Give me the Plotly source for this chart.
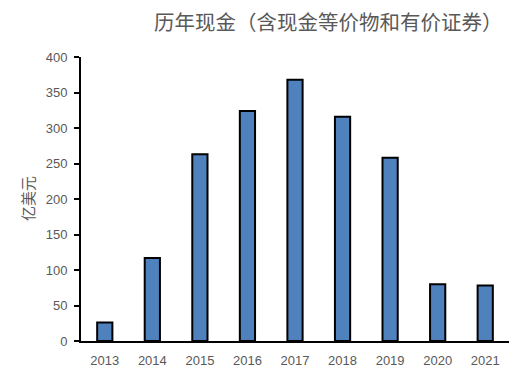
import plotly.graph_objects as go

years = ["2013", "2014", "2015", "2016", "2017", "2018", "2019", "2020", "2021"]
cash = [26, 117, 263, 324, 368, 316, 258, 80, 78]
y_ticks = [0, 50, 100, 150, 200, 250, 300, 350, 400]

title_text = "历年现金（含现金等价物和有价证券）"
y_title = "亿美元"

font_family = "Noto Sans CJK SC, Liberation Sans, Arial, sans-serif"
num_font = "Liberation Sans, Arial, sans-serif"

W, H = 525, 380
L, R, T, B = 81, 16, 57, 37
pw, ph = W - L - R, H - T - B

fig = go.Figure(go.Bar(
    x=years, y=cash,
    width=0.32,
    marker=dict(color="#4F81BD", line=dict(color="#000000", width=2)),
))

fig.update_layout(
    width=W, height=H,
    margin=dict(l=L, r=R, t=T, b=B),
    paper_bgcolor="white", plot_bgcolor="white",
    showlegend=False,
    font=dict(family=font_family, color="#595959", size=12),
    annotations=[
        dict(text=title_text, x=(328 - L) / pw, y=1 + (T - 21) / ph,
             xref="paper", yref="paper", showarrow=False,
             font=dict(size=20.5, color="#595959", family=font_family),
             xanchor="center", yanchor="middle"),
        dict(text=y_title, x=(27 - L) / pw, y=(H - B - 200) / ph,
             xref="paper", yref="paper", showarrow=False, textangle=-90,
             font=dict(size=15, color="#595959", family=font_family),
             xanchor="center", yanchor="middle"),
    ],
)

fig.update_xaxes(
    showline=True, linecolor="black", linewidth=2,
    ticks="", showgrid=False, ticklabelstandoff=6,
    tickfont=dict(size=13, color="#595959", family=num_font),
)
fig.update_yaxes(
    range=[0, 400], tickvals=y_ticks,
    showline=True, linecolor="black", linewidth=2,
    ticks="outside", ticklen=5, tickcolor="black", tickwidth=2,
    showgrid=False, zeroline=False, ticklabelstandoff=4,
    tickfont=dict(size=13, color="#595959", family=num_font),
)

fig.write_html("out.html", config={"displayModeBar": False},
               post_script="document.body.style.margin='0';")
